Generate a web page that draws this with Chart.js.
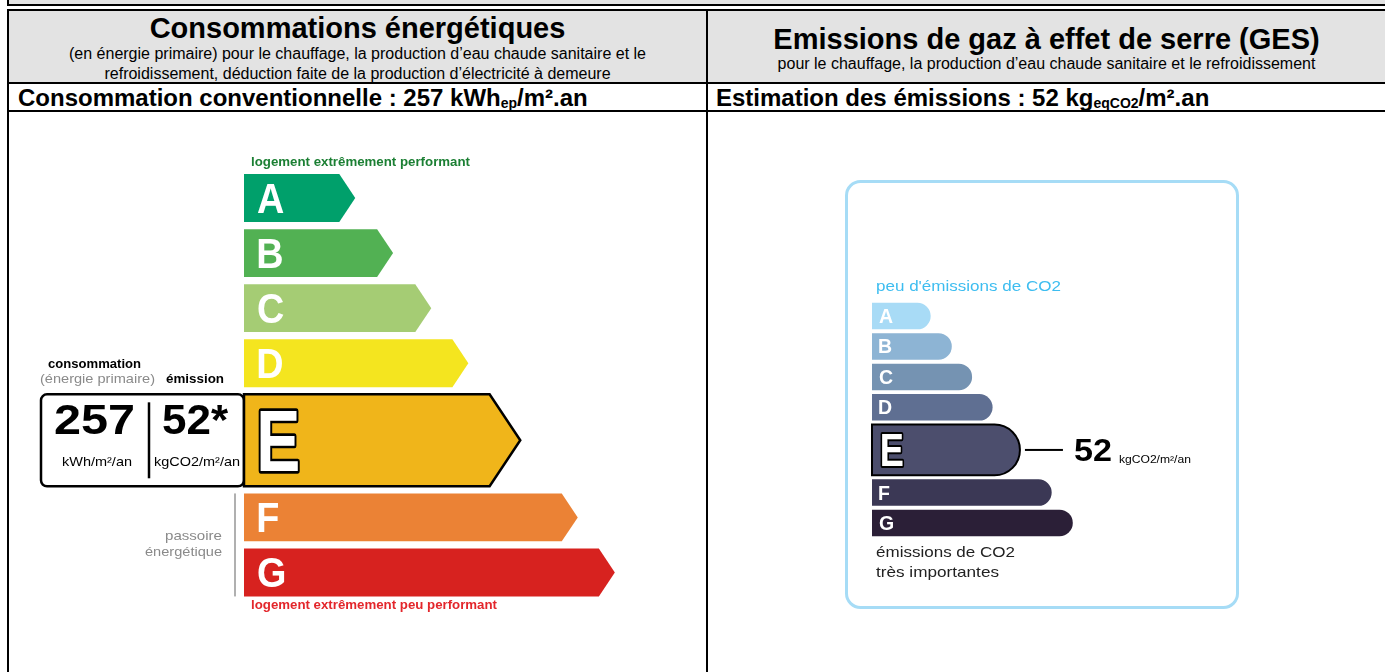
<!DOCTYPE html>
<html lang="fr">
<head>
<meta charset="utf-8">
<script src="https://cdn.jsdelivr.net/npm/chart.js@4.4.1/dist/chart.umd.min.js"></script>
<style>
  html, body { margin: 0; padding: 0; background: #fff; width: 1385px; height: 672px; overflow: hidden;
    font-family: "Liberation Sans", Arial, sans-serif; color: #000; }
  .abs { position: absolute; box-sizing: border-box; }
  .blk { background: #000; }
  .gray { background: #e3e3e3; }
  .title { font-weight: bold; font-size: 29px; line-height: 32px; text-align: center; white-space: nowrap; }
  .sub { font-size: 16px; line-height: 20px; text-align: center; white-space: nowrap; }
  .row2 { font-weight: bold; font-size: 24px; line-height: 26px; white-space: nowrap; }
  .row2 sub { font-size: 14px; vertical-align: -2px; line-height: 0; }
</style>
</head>
<body>
<!-- bottom of the previous table -->
<div class="abs gray" style="left:9px;top:0;width:1376px;height:4px"></div>
<div class="abs blk" style="left:7px;top:0;width:2px;height:6px"></div>
<div class="abs blk" style="left:7px;top:4px;width:1378px;height:2px"></div>

<!-- table grid -->
<div class="abs blk" style="left:7px;top:9px;width:1378px;height:2px"></div>
<div class="abs gray" style="left:9px;top:11px;width:697px;height:71px"></div>
<div class="abs gray" style="left:708px;top:11px;width:677px;height:71px"></div>
<div class="abs blk" style="left:7px;top:82px;width:1378px;height:2px"></div>
<div class="abs blk" style="left:7px;top:110px;width:1378px;height:2px"></div>
<div class="abs blk" style="left:7px;top:9px;width:2px;height:663px"></div>
<div class="abs blk" style="left:706px;top:9px;width:2px;height:663px"></div>

<div class="abs title" style="left:9px;top:12px;width:697px">Consommations énergétiques</div>
<div class="abs sub" style="left:9px;top:43.5px;width:697px">(en énergie primaire) pour le chauffage, la production d’eau chaude sanitaire et le<br>refroidissement, déduction faite de la production d’électricité à demeure</div>
<div class="abs title" style="left:708px;top:23px;width:677px">Emissions de gaz à effet de serre (GES)</div>
<div class="abs sub" style="left:708px;top:53.5px;width:677px">pour le chauffage, la production d’eau chaude sanitaire et le refroidissement</div>

<div class="abs row2" style="left:18px;top:85px">Consommation conventionnelle : <span id="convValue"></span> kWh<sub>ep</sub>/m².an</div>
<div class="abs row2" style="left:716px;top:85px">Estimation des émissions : <span id="emisValue"></span> kg<sub>eqCO2</sub>/m².an</div>

<div class="abs" style="left:9px;top:112px;width:697px;height:560px"><canvas id="dpe-chart"></canvas></div>
<div class="abs" style="left:708px;top:112px;width:677px;height:560px"><canvas id="ges-chart"></canvas></div>

<script>
const classes = ['A', 'B', 'C', 'D', 'E', 'F', 'G'];
const dpeLengths = [3, 4.02, 5.05, 6.05, 7.45, 9, 10];
const gesLengths = [2.92, 3.97, 4.98, 6, 7.36, 8.94, 9.99];
const dpeCurrent = 'E';
const gesCurrent = 'E';
const consumption = 257;
const emission = 52;

const dpeColors = ['#00a06b', '#52b153', '#a5cc74', '#f4e51f', '#f0b51a', '#eb8235', '#d7221f'];
const gesColors = ['#a8dbf6', '#8db4d4', '#7593b2', '#5f6f92', '#4c4e6d', '#3b3855', '#2b1f37'];
const FONT = '"Liberation Sans", Arial, sans-serif';

document.getElementById('convValue').textContent = consumption;
document.getElementById('emisValue').textContent = emission;

// highlighted class takes more room, the rest stay one slot apart
function rowPositions(labels, current) {
  let p = 0;
  return labels.map(c => {
    if (c === current) p += 0.4;
    const v = p;
    p += c === current ? 1.4 : 1;
    return v;
  });
}

// text squeezed or stretched to the width it has in the picture
function fitText(ctx, text, x, y, width, align) {
  const w = ctx.measureText(text).width;
  ctx.save();
  ctx.translate(x, y);
  ctx.scale(width / w, 1);
  ctx.textAlign = align || 'left';
  ctx.fillText(text, 0, 0);
  ctx.restore();
}

// one letter, ink starting at x, optionally outlined
function letter(ctx, ch, x, baseline, size, sx, fill, stroke) {
  ctx.save();
  ctx.font = 'bold ' + size + 'px ' + FONT;
  ctx.translate(x, baseline);
  ctx.scale(sx, 1);
  const m = ctx.measureText(ch);
  if (stroke) {
    ctx.lineJoin = 'round';
    ctx.lineWidth = stroke / sx * 2;
    ctx.strokeStyle = '#000';
    ctx.strokeText(ch, m.actualBoundingBoxLeft, 0);
  }
  ctx.fillStyle = fill;
  ctx.fillText(ch, m.actualBoundingBoxLeft, 0);
  ctx.restore();
}

function rows(chart, current) {
  const { x, y } = chart.scales;
  const pos = rowPositions(classes, current);
  return classes.map((c, i) => {
    const cur = c === current;
    const h = cur ? 1.67 : 0.87;
    const top = y.getPixelForValue(pos[i] - h / 2);
    const bot = y.getPixelForValue(pos[i] + h / 2);
    return { c, i, cur, top, bot, mid: (top + bot) / 2, left: x.getPixelForValue(0),
      tip: x.getPixelForValue(chart.data.datasets[0].data[i].x) };
  });
}

const dpeArrows = {
  id: 'dpeArrows',
  afterDatasetsDraw(chart) {
    const ctx = chart.ctx;
    const r = rows(chart, dpeCurrent);
    const x0 = r[0].left;
    ctx.save();
    ctx.textBaseline = 'alphabetic';

    r.forEach(b => {
      const hh = b.bot - b.top;
      const body = b.tip - hh / 3;
      if (b.cur) {
        // value box on the left of the current class
        ctx.beginPath();
        ctx.roundRect(x0 - 203, b.top, 203, hh, 6);
        ctx.fillStyle = '#fff';
        ctx.fill();
        ctx.lineWidth = 2.5;
        ctx.strokeStyle = '#000';
        ctx.stroke();
        ctx.beginPath();
        ctx.moveTo(x0 - 95, b.top + 8);
        ctx.lineTo(x0 - 95, b.bot - 8);
        ctx.stroke();

        ctx.fillStyle = '#000';
        ctx.font = 'bold 43px ' + FONT;
        fitText(ctx, String(consumption), x0 - 190, b.top + 40, 81);
        fitText(ctx, emission + '*', x0 - 82, b.top + 40, 66);
        ctx.font = '13px ' + FONT;
        fitText(ctx, 'kWh/m²/an', x0 - 182, b.top + 72, 70);
        fitText(ctx, 'kgCO2/m²/an', x0 - 90, b.top + 72, 86);

        ctx.font = 'bold 13px ' + FONT;
        fitText(ctx, 'consommation', x0 - 196, b.top - 26, 93);
        fitText(ctx, 'émission', x0 - 78, b.top - 11, 58);
        ctx.fillStyle = '#8a8a8a';
        ctx.font = '13px ' + FONT;
        fitText(ctx, '(énergie primaire)', x0 - 204, b.top - 11, 115);
      }
      ctx.beginPath();
      ctx.moveTo(b.left, b.top);
      ctx.lineTo(body, b.top);
      ctx.lineTo(b.tip, b.mid);
      ctx.lineTo(body, b.bot);
      ctx.lineTo(b.left, b.bot);
      ctx.closePath();
      ctx.fillStyle = dpeColors[b.i];
      ctx.fill();
      if (b.cur) {
        ctx.lineWidth = 2.5;
        ctx.lineJoin = 'miter';
        ctx.strokeStyle = '#000';
        ctx.stroke();
        letter(ctx, b.c, b.left + 16, b.mid + 31, 87, 0.76, '#fff', 2);
      } else {
        letter(ctx, b.c, b.left + 14, b.mid + 15, 42, 0.9, '#fff');
      }
    });

    const first = r[0], last = r[r.length - 1];
    ctx.font = 'bold 12px ' + FONT;
    ctx.fillStyle = '#1b7f33';
    fitText(ctx, 'logement extrêmement performant', x0 + 7, first.top - 8, 219);
    ctx.fillStyle = '#e3262b';
    fitText(ctx, 'logement extrêmement peu performant', x0 + 7, last.bot + 13, 246);

    // "passoire énergétique" bracket for F and G
    const f = r[5];
    ctx.fillStyle = '#b0b0b0';
    ctx.fillRect(x0 - 10, f.top, 2, last.bot - f.top);
    ctx.fillStyle = '#8a8a8a';
    ctx.font = '13px ' + FONT;
    fitText(ctx, 'passoire', x0 - 22, f.top + 47, 57, 'right');
    fitText(ctx, 'énergétique', x0 - 22, f.top + 63, 77, 'right');
    ctx.restore();
  }
};

const gesBars = {
  id: 'gesBars',
  beforeDatasetsDraw(chart) {
    const ctx = chart.ctx;
    ctx.save();
    ctx.beginPath();
    ctx.roundRect(138.5, 69.5, 391, 426, 14);
    ctx.lineWidth = 3;
    ctx.strokeStyle = '#a6dcf6';
    ctx.stroke();
    ctx.restore();
  },
  afterDatasetsDraw(chart) {
    const ctx = chart.ctx;
    const r = rows(chart, gesCurrent);
    const x0 = r[0].left;
    ctx.save();
    r.forEach(b => {
      const hh = b.bot - b.top;
      const rad = hh / 2;
      ctx.beginPath();
      ctx.moveTo(b.left, b.top);
      ctx.lineTo(b.tip - rad, b.top);
      ctx.arc(b.tip - rad, b.mid, rad, -Math.PI / 2, Math.PI / 2);
      ctx.lineTo(b.left, b.bot);
      ctx.closePath();
      ctx.fillStyle = gesColors[b.i];
      ctx.fill();
      if (b.cur) {
        ctx.lineWidth = 2;
        ctx.strokeStyle = '#000';
        ctx.stroke();
        letter(ctx, b.c, b.left + 10, b.mid + 16, 47, 0.77, '#fff', 1.6);
        // value marker
        ctx.fillStyle = '#000';
        ctx.fillRect(b.tip + 5, b.mid - 1, 38, 2);
        ctx.font = 'bold 32px ' + FONT;
        fitText(ctx, String(emission), b.tip + 54, b.mid + 11, 38);
        ctx.font = '10px ' + FONT;
        fitText(ctx, 'kgCO2/m²/an', b.tip + 99, b.mid + 13, 72);
      } else {
        letter(ctx, b.c, b.left + 7, b.mid + 7, 19.5, 1, '#fff');
      }
    });
    const first = r[0], last = r[r.length - 1];
    ctx.font = '15px ' + FONT;
    ctx.fillStyle = '#3dbdf0';
    fitText(ctx, "peu d'émissions de CO2", x0 + 4, first.top - 12, 185);
    ctx.fillStyle = '#222';
    fitText(ctx, 'émissions de CO2', x0 + 4, last.bot + 21, 139);
    fitText(ctx, 'très importantes', x0 + 4, last.bot + 41, 123);
    ctx.restore();
  }
};

function makeChart(id, lengths, current, padding, plugin) {
  const pos = rowPositions(classes, current);
  return new Chart(document.getElementById(id), {
    type: 'bar',
    data: {
      datasets: [{
        data: classes.map((c, i) => ({ x: lengths[i], y: pos[i] })),
        backgroundColor: 'rgba(0,0,0,0)',
        borderWidth: 0
      }]
    },
    options: {
      indexAxis: 'y',
      responsive: true,
      maintainAspectRatio: false,
      animation: false,
      layout: { padding },
      scales: {
        x: { type: 'linear', min: 0, max: 12, offset: false, display: false },
        y: { type: 'linear', min: -0.5, max: 7.3, reverse: true, offset: false, display: false }
      },
      plugins: { legend: { display: false }, tooltip: { enabled: false } }
    },
    plugins: [plugin]
  });
}

makeChart('dpe-chart', dpeLengths, dpeCurrent, { left: 235, right: 17, top: 58.5, bottom: 72 }, dpeArrows);
makeChart('ges-chart', gesLengths, gesCurrent, { left: 164, right: 271.8, top: 188.8, bottom: 133.8 }, gesBars);
</script>
</body>
</html>
